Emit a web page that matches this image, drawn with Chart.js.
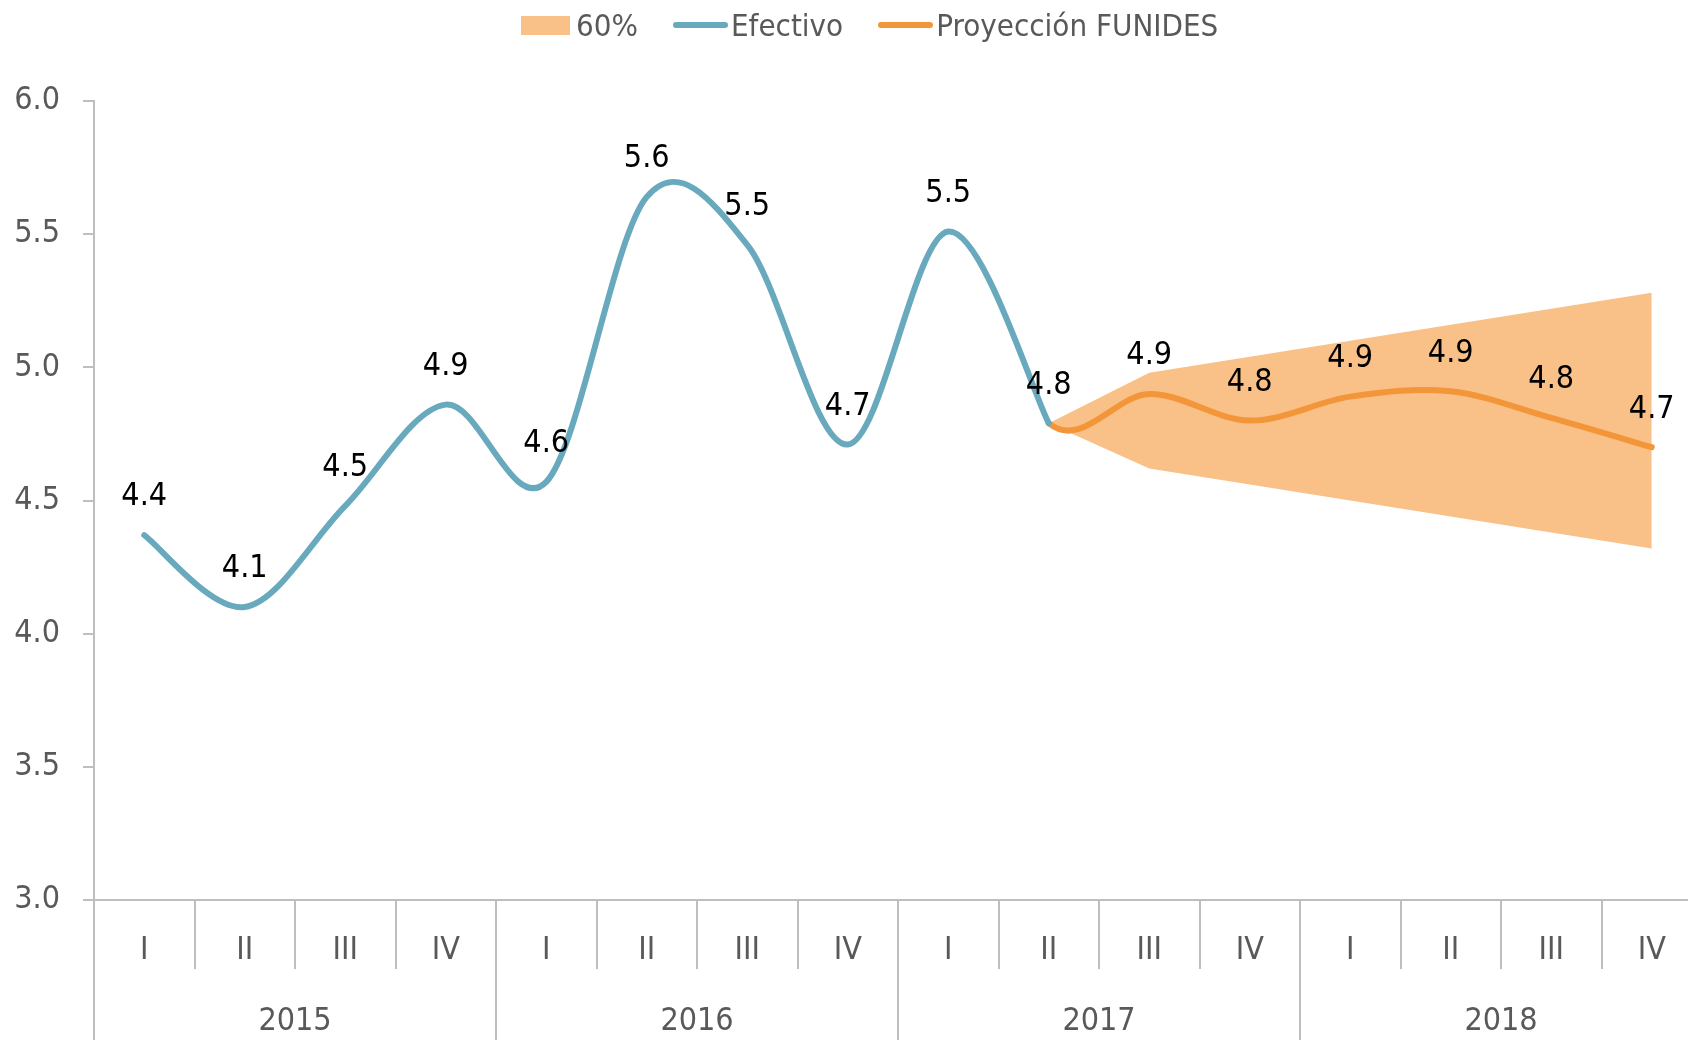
<!DOCTYPE html>
<html>
<head>
<meta charset="utf-8">
<title>Crecimiento del PIB - Proyección FUNIDES</title>
<script src="https://cdn.jsdelivr.net/npm/chart.js@4.4.1/dist/chart.umd.min.js"></script>
<style>
body {
	margin: 0;
	width: 1688px;
	height: 1040px;
	overflow: hidden;
	background: white;
	font-family: "DejaVu Sans Condensed", "Liberation Sans Narrow", sans-serif;
}
#wrap {
	position: relative;
	width: 1704px;
	height: 1040px;
}
#legend {
	position: absolute;
	left: 521px;
	top: 0;
	height: 50px;
	display: flex;
	align-items: center;
	font-size: 31px;
	color: #595959;
	white-space: nowrap;
}
.box { width: 49px; height: 19px; background: #F9C087; margin-right: 6px; }
.ln { width: 55px; height: 6px; border-radius: 3px; margin-left: 35px; margin-right: 3px; }
</style>
</head>
<body>
<div id="wrap">
	<canvas id="chart" width="1704" height="1040"></canvas>
	<!-- legend kept in html so the spacing can follow the original -->
	<div id="legend">
		<div class="box"></div><span>60%</span>
		<div class="ln" style="background:#69A9BE"></div><span>Efectivo</span>
		<div class="ln" style="background:#F3963A"></div><span>Proyección FUNIDES</span>
	</div>
</div>
<script>
// quarters 2015-I .. 2018-IV
var quarters = ['I','II','III','IV','I','II','III','IV','I','II','III','IV','I','II','III','IV'];
var years = ['2015','2016','2017','2018'];
var yTicks = [3.0, 3.5, 4.0, 4.5, 5.0, 5.5, 6.0];

// observed growth (%)
var efectivo = [4.37, 4.10, 4.48, 4.86, 4.57, 5.64, 5.46, 4.71, 5.51, 4.79,
	null, null, null, null, null, null];
// forecast, starts at the last observed quarter
var proyeccion = [null, null, null, null, null, null, null, null, null,
	4.79, 4.90, 4.80, 4.89, 4.91, 4.81, 4.70];
// 60% band
var bandaAlta = [null, null, null, null, null, null, null, null, null,
	4.79, 4.98, 5.04, 5.10, 5.16, 5.22, 5.28];
var bandaBaja = [null, null, null, null, null, null, null, null, null,
	4.79, 4.62, 4.56, 4.50, 4.44, 4.38, 4.32];

var fontName = '"DejaVu Sans Condensed", "Liberation Sans Narrow", sans-serif';
var axisGrey = '#BEBEBE';
var textGrey = '#595959';

// excel style smoothing: control points at 1/6 of the neighbour chord
// (forecast borrows the previous observed point for its first tangent)
var excelSmooth = {
	id: 'excelSmooth',
	beforeDatasetsDraw: function(chart) {
		chart.data.datasets.forEach(function(ds, di) {
			if (!ds.smooth) return;
			var meta = chart.getDatasetMeta(di);
			var line = meta.dataset;
			if (line && typeof line.updateControlPoints == 'function') {
				line.updateControlPoints(chart.chartArea, 'x');
			}
			var pts = meta.data;
			var idx = [];
			pts.forEach(function(p, i) { if (!p.skip) idx.push(i); });
			idx.forEach(function(i, k) {
				var p = pts[i];
				var prev = k > 0 ? pts[idx[k - 1]] : p;
				var next = k < idx.length - 1 ? pts[idx[k + 1]] : p;
				if (k == 0 && ds.leadFrom != null) {
					var lead = chart.getDatasetMeta(ds.leadFrom).data[i - 1];
					if (lead && !lead.skip) prev = lead;
				}
				var dx = (next.x - prev.x) / 6;
				var dy = (next.y - prev.y) / 6;
				p.cp1x = p.x - dx; p.cp1y = p.y - dy;
				p.cp2x = p.x + dx; p.cp2y = p.y + dy;
			});
			if (line) line._path = undefined;
		});
	}
};

// value labels above the points (skip the first forecast point, same as last observed)
var valueLabels = {
	id: 'valueLabels',
	afterDatasetsDraw: function(chart) {
		var ctx = chart.ctx;
		ctx.save();
		ctx.font = '32px ' + fontName;
		ctx.fillStyle = '#000000';
		ctx.textAlign = 'center';
		ctx.textBaseline = 'middle';
		chart.data.datasets.forEach(function(ds, di) {
			if (!ds.showValues) return;
			var meta = chart.getDatasetMeta(di);
			meta.data.forEach(function(pt, i) {
				var v = ds.data[i];
				if (v == null || (ds.skipFirst && i == ds.skipFirst)) return;
				ctx.fillText(v.toFixed(1), pt.x, pt.y - 38);
			});
		});
		ctx.restore();
	}
};

var ctx = document.getElementById('chart').getContext('2d');
var myChart = new Chart(ctx, {
	type: 'line',
	data: {
		labels: quarters,
		datasets: [
			{
				label: 'Efectivo',
				data: efectivo,
				borderColor: '#69A9BE',
				borderWidth: 6,
				tension: 0.4,
				smooth: true,
				pointRadius: 0,
				borderCapStyle: 'round',
				fill: false,
				showValues: true,
				order: 1
			},
			{
				label: 'Proyección FUNIDES',
				data: proyeccion,
				borderColor: '#F3963A',
				borderWidth: 6,
				tension: 0.4,
				smooth: true,
				leadFrom: 0,
				pointRadius: 0,
				borderCapStyle: 'round',
				fill: false,
				showValues: true,
				skipFirst: 9,
				order: 2
			},
			{
				label: '60%',
				data: bandaAlta,
				borderWidth: 0,
				pointRadius: 0,
				tension: 0,
				backgroundColor: '#F9C087',
				fill: '+1',
				order: 3
			},
			{
				label: '60% inf',
				data: bandaBaja,
				borderWidth: 0,
				pointRadius: 0,
				tension: 0,
				fill: false,
				order: 3
			}
		]
	},
	options: {
		responsive: false,
		animation: false,
		layout: {
			padding: { left: 0, right: 2, top: 101, bottom: 0 }
		},
		plugins: {
			legend: { display: false },
			tooltip: { enabled: false }
		},
		scales: {
			y: {
				min: 3,
				max: 6,
				afterFit: function(s) { s.width = 94; },
				afterBuildTicks: function(s) {
					s.ticks = yTicks.map(function(v) { return { value: v }; });
				},
				ticks: {
					color: textGrey,
					padding: 23,
					font: { family: fontName, size: 32 },
					callback: function(v) { return Number(v).toFixed(1); }
				},
				grid: {
					drawOnChartArea: false,
					tickLength: 11,
					color: axisGrey,
					lineWidth: 2
				},
				border: { color: axisGrey, width: 2 }
			},
			x: {
				offset: true,
				weight: 0,
				afterFit: function(s) { s.height = 69; },
				ticks: {
					color: textGrey,
					autoSkip: false,
					maxRotation: 0,
					padding: -38,
					font: { family: fontName, size: 32 }
				},
				grid: {
					offset: true,
					drawOnChartArea: false,
					tickLength: 69,
					color: axisGrey,
					lineWidth: 2
				},
				border: { color: axisGrey, width: 2 }
			},
			x2: {
				type: 'category',
				position: 'bottom',
				labels: years,
				offset: true,
				weight: 10,
				afterFit: function(s) { s.height = 71; },
				ticks: {
					color: textGrey,
					autoSkip: false,
					maxRotation: 0,
					padding: -38,
					font: { family: fontName, size: 32 }
				},
				grid: {
					offset: true,
					drawOnChartArea: false,
					tickLength: 71,
					color: axisGrey,
					lineWidth: 2
				},
				border: { display: false }
			}
		}
	},
	plugins: [excelSmooth, valueLabels]
});
</script>
</body>
</html>
